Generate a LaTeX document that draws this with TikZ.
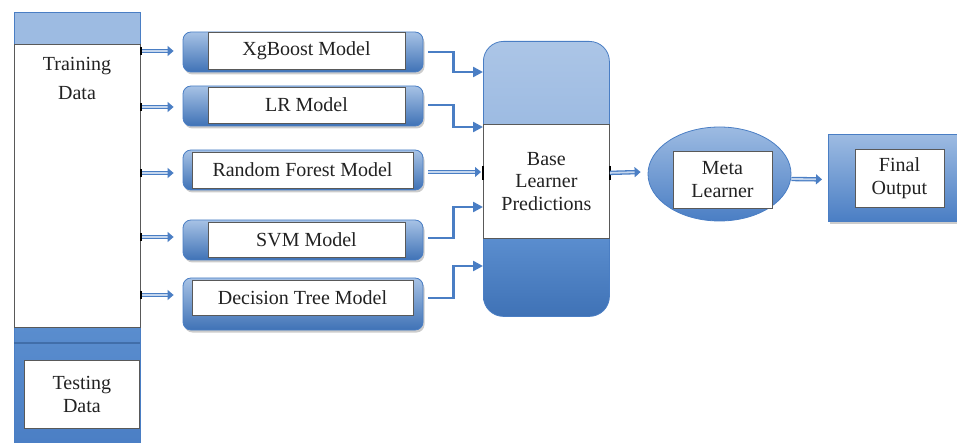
\documentclass[tikz,border=0pt]{standalone}
\usepackage{fontspec}
\setmainfont{Liberation Serif}
\usetikzlibrary{arrows.meta,shadows,calc,shapes.geometric}
\definecolor{lblue}{HTML}{9DBBE2}
\definecolor{mblue}{HTML}{5A8DCE}
\definecolor{dblue}{HTML}{3F72B6}
\definecolor{edge}{HTML}{4A7EC4}
\definecolor{inkc}{HTML}{222222}
% light on top, deep blue in the lower third
\pgfdeclareverticalshading{baseshade}{100bp}{color(0bp)=(dblue); color(25bp)=(dblue); color(39bp)=(mblue); color(50bp)=(lblue!90!mblue); color(60bp)=(lblue); color(75bp)=(lblue!85!white); color(100bp)=(lblue!85!white)}
\begin{document}
\begin{tikzpicture}[x=1pt,y=-1pt,
  txt/.style={font=\fontsize{20}{22.5}\selectfont, align=center, text=inkc},
  whitebox/.style={draw=black!65, fill=white, line width=0.8pt, inner sep=0pt},
  modelbox/.style={rounded corners=8pt, draw=edge, line width=0.8pt,
    top color=lblue!90!white, bottom color=dblue, minimum width=240pt, inner sep=0pt,
    drop shadow={shadow xshift=1.5pt, shadow yshift=-2.5pt, opacity=0.4}},
  dblarrow/.style={draw=edge, line width=1.3pt, double=lblue!60!white, double distance=1.8pt,
    -{Triangle[length=6pt,width=10pt]}},
  elbow/.style={draw=edge, line width=2.4pt, -{Triangle[length=10pt,width=10pt]}},
  tick/.style={draw=black, line width=1.6pt},
]
\useasboundingbox (0,0) rectangle (957,443);

% ---- data column ----
\path[fill=lblue, draw=edge, line width=0.8pt] (14,12) rectangle (140,44);
\path[top color=mblue, bottom color=edge, draw=edge, line width=0.8pt] (14,327) rectangle (140,450);
\draw[dblue!80!black, line width=1.6pt, opacity=0.6] (14,343) -- (140,343);
\node[whitebox, minimum width=126pt, minimum height=283pt, anchor=north west] (train) at (14,44) {};
\node[txt, font=\fontsize{20}{29}\selectfont] (trainlbl) at (77,78) {Training\\Data};
\node[whitebox, txt, minimum width=115pt, minimum height=68pt, anchor=north west] (test) at (24,360) {Testing\\Data};

% ---- base models ----
\node[modelbox, minimum height=40pt] (xgo) at (303,52) {};
\node[whitebox, txt, minimum width=197pt, minimum height=37pt] (xg) at (306.5,50.5) {XgBoost Model};
\node[modelbox, minimum height=40pt] (lro) at (303,106) {};
\node[whitebox, txt, minimum width=197pt, minimum height=36pt] (lr) at (306.5,105) {LR Model};
\node[modelbox, minimum height=40pt] (rfo) at (303,170) {};
\node[whitebox, txt, minimum width=221pt, minimum height=36pt] (rf) at (302.5,170) {Random Forest Model};
\node[modelbox, minimum height=40pt] (svmo) at (303,240) {};
\node[whitebox, txt, minimum width=197pt, minimum height=35pt] (svm) at (306.5,240) {SVM Model};
\node[modelbox, minimum height=52pt] (dto) at (303,304) {};
\node[whitebox, txt, minimum width=221pt, minimum height=35pt] (dt) at (302.5,297.5) {Decision Tree Model};

% ---- base learner ----
\node[rounded corners=20pt, draw=edge, line width=0.8pt, shading=baseshade,
  minimum width=126pt, minimum height=275pt, anchor=north west, inner sep=0pt] (base) at (483,41) {};
\node[whitebox, txt, minimum width=126pt, minimum height=114pt, anchor=north west] (pred) at (483,124) {Base\\Learner\\Predictions};

% ---- meta learner and output ----
\node[ellipse, draw=edge, line width=0.8pt, top color=lblue, bottom color=edge,
  minimum width=143pt, minimum height=94pt, inner sep=0pt] (meta) at (719.5,174) {};
\node[whitebox, txt, minimum width=99pt, minimum height=57pt] (metalbl) at (722.5,179.5) {Meta\\Learner};
\node[draw=edge, line width=0.8pt, top color=lblue, bottom color=edge,
  minimum width=134pt, minimum height=87pt, anchor=north west, inner sep=0pt,
  drop shadow={shadow xshift=1.5pt, shadow yshift=-2.5pt, opacity=0.4}] (final) at (828,134) {};
\node[whitebox, txt, minimum width=89pt, minimum height=58pt] (finallbl) at (899.5,178) {Final\\Output};

% ---- training data feeds every model ----
\draw[dblarrow] ([yshift=1pt]train.east |- xgo.west) -- ([xshift=-9pt,yshift=1pt]xgo.west);
\draw[dblarrow] ([yshift=-1pt]train.east |- lro.west) -- ([xshift=-9pt,yshift=-1pt]lro.west);
\draw[dblarrow] ([yshift=-3pt]train.east |- rfo.west) -- ([xshift=-9pt,yshift=-3pt]rfo.west);
\draw[dblarrow] ([yshift=3pt]train.east |- svmo.west) -- ([xshift=-9pt,yshift=3pt]svmo.west);
\draw[dblarrow] ([yshift=9pt]train.east |- dto.west) -- ([xshift=-9pt,yshift=9pt]dto.west);
\foreach \n/\s in {xgo/1, lro/-1, rfo/-3, svmo/3, dto/9}
  \draw[tick] ([yshift=\s pt+4pt]train.east |- \n.west) -- ([yshift=\s pt-4pt]train.east |- \n.west);

% ---- model outputs into the base learner ----
\coordinate (b1) at ($(base.north west)+(0,31)$);
\coordinate (b2) at ($(base.north west)+(0,86)$);
\coordinate (b4) at ($(base.north west)+(0,166)$);
\coordinate (b5) at ($(base.north west)+(0,225)$);
\draw[elbow] ([xshift=5pt]xgo.east) -- ++(25,0) |- (b1);
\draw[elbow] ([xshift=5pt,yshift=1pt]lro.east) -- ++(25,0) |- (b2);
\draw[dblarrow] ([xshift=5pt,yshift=-2pt]rfo.east) -- ([xshift=-2pt,yshift=-2pt]rfo.east -| base.west);
\draw[elbow] ([xshift=5pt,yshift=2pt]svmo.east) -- ++(25,0) |- (b4);
\draw[elbow] ([xshift=5pt,yshift=6pt]dto.east) -- ++(25,0) |- (b5);
\draw[tick] ([yshift=13pt]base.west) -- ([yshift=-1pt]base.west);
\draw[tick] ([yshift=13pt]base.east) -- ([yshift=-1pt]base.east);

% ---- stacking stage ----
\draw[dblarrow] ([yshift=6pt]base.east) -- ([xshift=-7pt,yshift=2pt]meta.west);
\draw[dblarrow] ([yshift=-5pt]meta.east) -- ([xshift=-6pt,yshift=-1.5pt]final.west);
\end{tikzpicture}
\end{document}
